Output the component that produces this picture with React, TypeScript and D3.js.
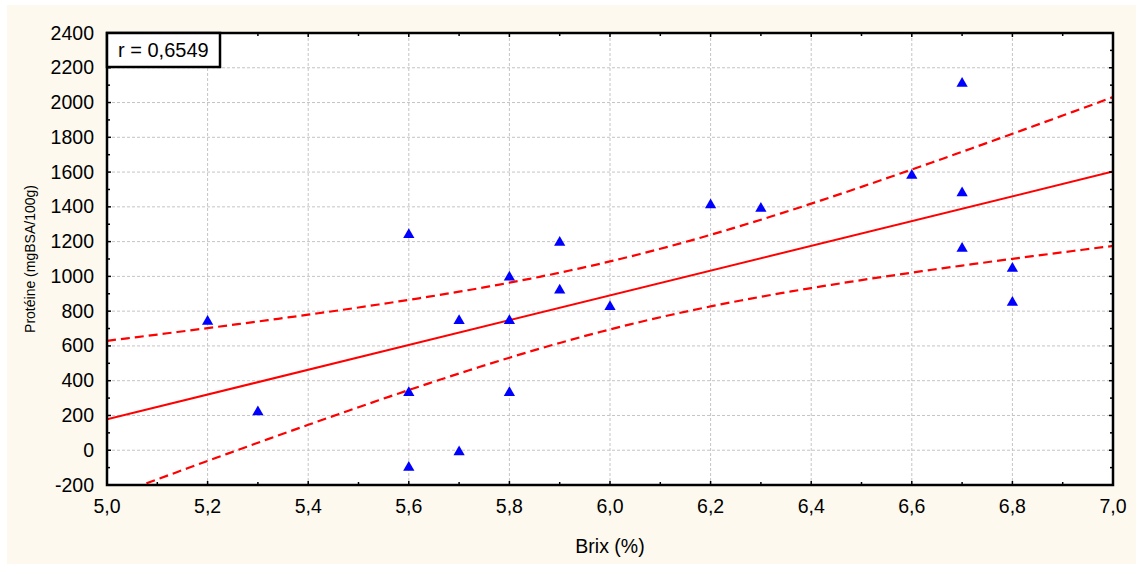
import React from "react";
import * as d3 from "d3";

const brix = [5.2, 5.3, 5.6, 5.6, 5.6, 5.7, 5.7, 5.8, 5.8, 5.8, 5.9, 5.9, 6.0, 6.2, 6.3, 6.6, 6.7, 6.7, 6.7, 6.8, 6.8];
const proteine = [740, 220, 1240, 330, -100, 745, -10, 995, 745, 330, 1195, 920, 825, 1410, 1390, 1580, 2110, 1480, 1160, 1045, 850];
const xTicks = [5.0, 5.2, 5.4, 5.6, 5.8, 6.0, 6.2, 6.4, 6.6, 6.8, 7.0];
const yTicks = [-200, 0, 200, 400, 600, 800, 1000, 1200, 1400, 1600, 1800, 2000, 2200, 2400];
const rLabel = "r = 0,6549";
const xTitle = "Brix (%)";
const yTitle = "Protéine (mgBSA/100g)";

const W = 1136, H = 564;
const L = 107, R = 1113, T = 33, B = 485;
const FONT = "Arial, 'Liberation Sans', sans-serif";

export default function App() {
  const x = d3.scaleLinear().domain([5.0, 7.0]).range([L, R]);
  const y = d3.scaleLinear().domain([-200, 2400]).range([B, T]);

  const n = brix.length;
  const mx = d3.mean(brix)!;
  const my = d3.mean(proteine)!;
  let sxx = 0, sxy = 0;
  brix.forEach((v, i) => { sxx += (v - mx) ** 2; sxy += (v - mx) * (proteine[i] - my); });
  const b1 = sxy / sxx;
  const b0 = my - b1 * mx;
  let sse = 0;
  brix.forEach((v, i) => { sse += (proteine[i] - (b0 + b1 * v)) ** 2; });
  const s = Math.sqrt(sse / (n - 2));
  const t = 2.093;
  const xs = d3.range(5.0, 7.0001, 0.02);
  const fit = (v: number) => b0 + b1 * v;
  const half = (v: number) => t * s * Math.sqrt(1 / n + (v - mx) ** 2 / sxx);
  const line = d3.line<[number, number]>().x(d => x(d[0])).y(d => y(d[1]));
  const upper = line(xs.map(v => [v, fit(v) + half(v)] as [number, number]))!;
  const lower = line(xs.map(v => [v, fit(v) - half(v)] as [number, number]))!;
  const reg = line([[5.0, fit(5.0)], [7.0, fit(7.0)]])!;

  const minorX = d3.range(5.0, 7.0001, 0.1);
  const minorY = d3.range(-200, 2400.1, 100);
  const tri = d3.symbol().type(d3.symbolTriangle).size(55)()!;

  return (
    <svg width={W} height={H} style={{ position: "absolute", left: 0, top: 0 }} fontFamily={FONT}>
      <rect x={0} y={0} width={W} height={H} fill="#ffffff" />
      <rect x={7} y={5} width={W - 7} height={H - 5} fill="#fdf9ee" />
      <defs>
        <clipPath id="plotclip"><rect x={L} y={T} width={R - L} height={B - T} /></clipPath>
      </defs>
      <rect x={L} y={T} width={R - L} height={B - T} fill="#ffffff" />
      {xTicks.slice(1, -1).map(v => (
        <line key={"gx" + v} x1={x(v)} x2={x(v)} y1={T} y2={B} stroke="#c4c4c4" strokeWidth={1} strokeDasharray="3,2" />
      ))}
      {yTicks.slice(1, -1).map(v => (
        <line key={"gy" + v} x1={L} x2={R} y1={y(v)} y2={y(v)} stroke="#c4c4c4" strokeWidth={1} strokeDasharray="3,2" />
      ))}
      <g clipPath="url(#plotclip)">
        <path d={upper} fill="none" stroke="#ff0000" strokeWidth={2.2} strokeDasharray="9,5" />
        <path d={lower} fill="none" stroke="#ff0000" strokeWidth={2.2} strokeDasharray="9,5" />
        <path d={reg} fill="none" stroke="#ff0000" strokeWidth={2} />
      </g>
      {brix.map((v, i) => (
        <path key={"p" + i} d={tri} transform={`translate(${x(v)},${y(proteine[i])})`} fill="#0000ff" />
      ))}
      {minorX.map((v, i) => {
        const len = i % 2 === 0 ? 4 : 3;
        return (
          <g key={"tx" + i}>
            <line x1={x(v)} x2={x(v)} y1={B} y2={B - len} stroke="#000" strokeWidth={1.5} />
            <line x1={x(v)} x2={x(v)} y1={T} y2={T + len} stroke="#000" strokeWidth={1.5} />
          </g>
        );
      })}
      {minorY.map((v, i) => {
        const len = i % 2 === 0 ? 4 : 3;
        return (
          <g key={"ty" + i}>
            <line x1={L} x2={L + len} y1={y(v)} y2={y(v)} stroke="#000" strokeWidth={1.5} />
            <line x1={R} x2={R - len} y1={y(v)} y2={y(v)} stroke="#000" strokeWidth={1.5} />
          </g>
        );
      })}
      <rect x={L} y={T} width={R - L} height={B - T} fill="none" stroke="#000" strokeWidth={2.5} />
      {yTicks.map(v => (
        <text key={"ly" + v} x={94} y={y(v) + 6.5} textAnchor="end" fontSize={19.5} fill="#000">{String(v)}</text>
      ))}
      {xTicks.map(v => (
        <text key={"lx" + v} x={x(v)} y={513} textAnchor="middle" fontSize={19.5} fill="#000">{v.toFixed(1).replace(".", ",")}</text>
      ))}
      <text x={(L + R) / 2} y={553} textAnchor="middle" fontSize={19.5} fill="#000">{xTitle}</text>
      <text transform={`translate(35,${(T + B) / 2}) rotate(-90)`} textAnchor="middle" fontSize={14} fill="#000">{yTitle}</text>
      <rect x={L} y={T} width={113} height={34} fill="#ffffff" stroke="#000" strokeWidth={2.5} />
      <text x={118} y={57} fontSize={20} fill="#000">{rLabel}</text>
    </svg>
  );
}
